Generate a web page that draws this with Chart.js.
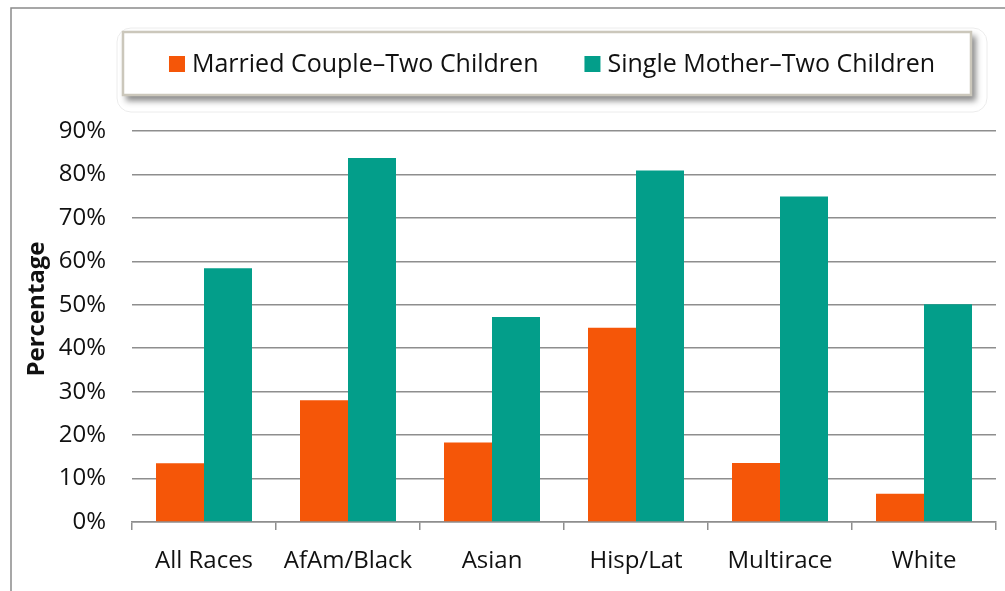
<!DOCTYPE html>
<html>
<head>
<meta charset="utf-8">
<script src="https://cdn.jsdelivr.net/npm/chart.js@4/dist/chart.umd.min.js"></script>
<style>
  html, body { margin: 0; padding: 0; background: #fff; }
  #wrap { width: 1005px; height: 591px; }
</style>
</head>
<body>
<div id="wrap"><canvas id="chart" width="1005" height="591"></canvas></div>
<script>
// data
const categories = ["All Races", "AfAm/Black", "Asian", "Hisp/Lat", "Multirace", "White"];
const seriesNames = ["Married Couple\u2013Two Children", "Single Mother\u2013Two Children"];
const marriedTwo = [13.5, 28, 18.3, 44.7, 13.6, 6.5];
const singleMotherTwo = [58.4, 83.8, 47.2, 80.9, 74.9, 50.1];
const yTicks = [0, 10, 20, 30, 40, 50, 60, 70, 80, 90];
const yTitle = "Percentage";

const ORANGE = "#f55608";
const TEAL = "#039e8a";
const GRID = "#8e8e8e";
const FONT = "'Open Sans', 'DejaVu Sans', sans-serif";

// frame, legend box and y title are drawn by hand (the original legend has a boxed shadow look)
const decor = {
    id: "decor",
    beforeDraw(chart) {
        const ctx = chart.ctx;
        ctx.save();

        // outer frame, only left and top edges are visible in the crop
        ctx.strokeStyle = "#8a8a8a";
        ctx.lineWidth = 1.5;
        ctx.strokeRect(11, 8, 1100, 1000);

        // soft rounded glow behind legend
        ctx.beginPath();
        ctx.roundRect(117, 28, 870, 84, 14);
        ctx.strokeStyle = "#ececec";
        ctx.lineWidth = 1;
        ctx.stroke();

        // legend box with shadow
        ctx.save();
        ctx.shadowColor = "rgba(0,0,0,0.45)";
        ctx.shadowOffsetX = 4;
        ctx.shadowOffsetY = 5;
        ctx.shadowBlur = 6;
        ctx.fillStyle = "#fff";
        ctx.fillRect(122, 31, 850, 65);
        ctx.restore();
        ctx.strokeStyle = "#cbc7bb";
        ctx.lineWidth = 2.5;
        ctx.strokeRect(123, 32, 848, 63);

        // legend items
        ctx.font = "25px " + FONT;
        ctx.textBaseline = "middle";
        ctx.textAlign = "left";
        const sets = chart.data.datasets;
        const box = 16, gap = 7, between = 46;
        let total = 0;
        sets.forEach((ds, i) => {
            total += box + gap + ctx.measureText(ds.label).width;
            if (i < sets.length - 1) total += between;
        });
        let x = 552 - total / 2;
        const cy = 64;
        sets.forEach(ds => {
            ctx.fillStyle = ds.backgroundColor;
            ctx.fillRect(x, cy - 8, box, box);
            x += box + gap;
            ctx.fillStyle = "#111";
            ctx.fillText(ds.label, x, cy + 1);
            x += ctx.measureText(ds.label).width + between;
        });

        // y axis title
        ctx.translate(37, 309);
        ctx.rotate(-Math.PI / 2);
        ctx.textAlign = "center";
        ctx.font = "bold 24px " + FONT;
        ctx.fillStyle = "#111";
        ctx.fillText(yTitle, 0, 0);

        ctx.restore();
    }
};

new Chart(document.getElementById("chart"), {
    type: "bar",
    data: {
        labels: categories,
        datasets: [
            { label: seriesNames[0], data: marriedTwo, backgroundColor: ORANGE },
            { label: seriesNames[1], data: singleMotherTwo, backgroundColor: TEAL }
        ]
    },
    options: {
        responsive: false,
        animation: false,
        events: [],
        categoryPercentage: 2 / 3,
        barPercentage: 1.0,
        layout: { padding: { top: 131, right: 9, left: 0, bottom: 0 } },
        plugins: {
            legend: { display: false },
            tooltip: { enabled: false },
            title: { display: false }
        },
        scales: {
            x: {
                afterFit: s => { s.height = 69; },
                grid: { drawOnChartArea: false, drawTicks: true, tickLength: 8, color: GRID, lineWidth: 1.5 },
                border: { display: true, color: GRID, width: 1.5 },
                ticks: { color: "#111", font: { family: FONT, size: 24 }, padding: 17 }
            },
            y: {
                min: 0,
                max: 90,
                afterFit: s => { s.width = 132; },
                afterBuildTicks: s => { s.ticks = yTicks.map(v => ({ value: v })); },
                grid: { drawTicks: false, color: GRID, lineWidth: 1.5 },
                border: { display: false },
                ticks: {
                    color: "#111",
                    font: { family: FONT, size: 24 },
                    padding: 26,
                    callback: v => v + "%"
                }
            }
        }
    },
    plugins: [decor]
});
</script>
</body>
</html>
